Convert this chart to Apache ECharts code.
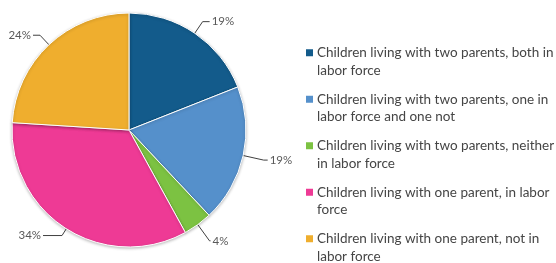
<!DOCTYPE html>
<html>
<head>
<meta charset="utf-8">
<script src="https://cdn.jsdelivr.net/npm/echarts@6/dist/echarts.min.js"></script>
<style>
html, body { margin: 0; padding: 0; background: #fff; }
#chart { width: 556px; height: 263px; }
</style>
</head>
<body>
<div id="chart"></div>
<script>
// categories, top of the pie going clockwise
var categories = [
    'Children living with two parents, both in labor force',
    'Children living with two parents, one in labor force and one not',
    'Children living with two parents, neither in labor force',
    'Children living with one parent, in labor force',
    'Children living with one parent, not in labor force'
];
// legend text as it wraps in the picture
var legendLines = [
    'Children living with two parents, both in\nlabor force',
    'Children living with two parents, one in\nlabor force and one not',
    'Children living with two parents, neither\nin labor force',
    'Children living with one parent, in labor\nforce',
    'Children living with one parent, not in\nlabor force'
];
var shares = [19, 19, 4, 34, 24];
var colors = ['#135b8b', '#5590cb', '#7cc242', '#ee3a95', '#efae2e'];
// leader line lengths per slice [radial, horizontal]
var leaderLens = [[14, 7], [21, 4], [20, 1], [8, 19], [13, 7]];

var pieData = categories.map(function (name, i) {
    return {
        name: name,
        value: shares[i],
        itemStyle: { color: colors[i] },
        labelLine: { length: leaderLens[i][0], length2: leaderLens[i][1] }
    };
});

// square sitting on the first line of a two-line legend entry
var legendIcon = 'path://M0,0L0,0M0,35L0,35M0,5.25H7V12.25H0Z';

var option = {
    backgroundColor: '#fff',
    animation: false,
    legend: {
        orient: 'vertical',
        left: 306,
        top: 44,
        height: 240,
        padding: 0,
        itemWidth: 7,
        itemHeight: 35,
        itemGap: 11.5,
        icon: legendIcon,
        itemStyle: { borderWidth: 0, shadowBlur: 0 },
        formatter: function (name) {
            return legendLines[categories.indexOf(name)];
        },
        textStyle: {
            fontFamily: 'Lato',
            fontSize: 13.5,
            lineHeight: 17.5,
            color: '#454545',
            padding: [0, 0, 0, -1]
        },
        data: categories
    },
    series: [{
        type: 'pie',
        center: [129, 130],
        radius: 117,
        startAngle: 90,
        clockwise: true,
        avoidLabelOverlap: false,
        itemStyle: {
            borderColor: '#fff',
            borderWidth: 1,
            shadowBlur: 3,
            shadowOffsetY: 1,
            shadowColor: 'rgba(0,0,0,0.25)'
        },
        label: {
            formatter: '{c}%',
            fontFamily: 'Lato',
            fontSize: 11.5,
            color: '#595959',
            overflow: 'none',
            distanceToLabelLine: 2
        },
        labelLine: {
            lineStyle: { color: '#404040', width: 1 }
        },
        emphasis: { disabled: true },
        data: pieData
    }]
};

var myChart = echarts.init(document.getElementById('chart'));
myChart.setOption(option);
</script>
</body>
</html>
